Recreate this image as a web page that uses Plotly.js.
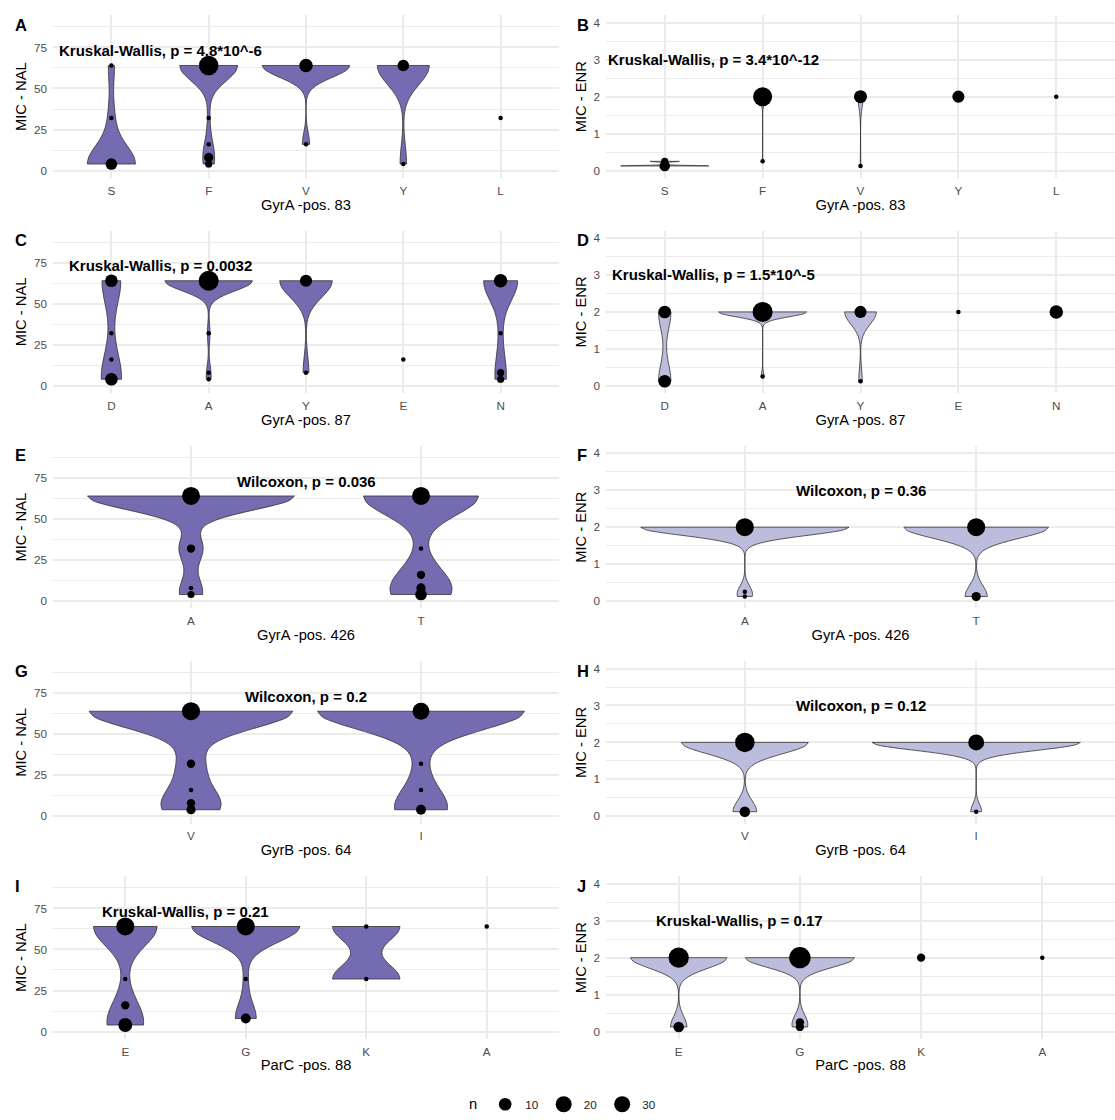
<!DOCTYPE html>
<html><head><meta charset="utf-8">
<script src="https://cdn.plot.ly/plotly-3.0.1.min.js"></script>
<style>html,body{margin:0;padding:0;background:#fff}#chart{width:1115px;height:1120px}</style>
</head><body><div id="chart"></div>
<script>
// ---------- data (MIC value, group, number of isolates) ----------
const A_cats = ['S','F','V','Y','L'];
const A_grp = ['S','S','S','F','F','F','F','F','V','V','Y','Y','L'];
const A_mic = [64,32,4, 64,32,16,8,4, 64,16, 64,4, 32];
const A_n   = [1,1,8, 32,1,1,4,2, 12,1, 8,1, 1];

const B_cats = ['S','F','V','Y','L'];
const B_grp = ['S','S','F','F','V','V','Y','L'];
const B_mic = [0.125,0.25, 2,0.25, 2,0.125, 2, 2];
const B_n   = [6,2, 30,1, 11,1, 9, 1];

const C_cats = ['D','A','Y','E','N'];
const C_grp = ['D','D','D','D','A','A','A','A','Y','Y','E','N','N','N','N'];
const C_mic = [64,32,16,4, 64,32,8,4, 64,8, 16, 64,32,8,4];
const C_n   = [10,1,1,10, 34,1,1,1, 9,1, 1, 12,1,2,2];

const D_cats = ['D','A','Y','E','N'];
const D_grp = ['D','D','A','A','Y','Y','E','N'];
const D_mic = [2,0.125, 2,0.25, 2,0.125, 2, 2];
const D_n   = [10,10, 34,1, 9,1, 1, 12];

const E_cats = ['A','T'];
const E_grp = ['A','A','A','A','T','T','T','T','T'];
const E_mic = [64,32,8,4, 64,32,16,8,4];
const E_n   = [26,3,1,2, 26,1,3,4,8];

const F_cats = ['A','T'];
const F_grp = ['A','A','A','T','T'];
const F_mic = [2,0.25,0.125, 2,0.125];
const F_n   = [26,1,1, 26,4];

const G_cats = ['V','I'];
const G_grp = ['V','V','V','V','V','I','I','I','I'];
const G_mic = [64,32,16,8,4, 64,32,16,4];
const G_n   = [26,3,1,3,4, 22,1,1,5];

const H_cats = ['V','I'];
const H_grp = ['V','V','I','I'];
const H_mic = [2,0.125, 2,0.125];
const H_n   = [32,6, 19,1];

const I_cats = ['E','G','K','A'];
const I_grp = ['E','E','E','E','G','G','G','K','K','A'];
const I_mic = [64,32,16,4, 64,32,8, 64,32, 64];
const I_n   = [26,1,3,13, 26,1,5, 1,1, 1];

const J_cats = ['E','G','K','A'];
const J_grp = ['E','E','G','G','G','K','A'];
const J_mic = [2,0.125, 2,0.25,0.125, 2, 2];
const J_n   = [35,6, 40,3,3, 3, 1];

const panelIds = ['A','B','C','D','E','F','G','H','I','J'];
const xTitles = ['GyrA -pos. 83','GyrA -pos. 83','GyrA -pos. 87','GyrA -pos. 87','GyrA -pos. 426',
                 'GyrA -pos. 426','GyrB -pos. 64','GyrB -pos. 64','ParC -pos. 88','ParC -pos. 88'];
const yTitles = ['MIC - NAL','MIC - ENR'];
const statLabels = ['Kruskal-Wallis, p = 4.8*10^-6','Kruskal-Wallis, p = 3.4*10^-12',
  'Kruskal-Wallis, p = 0.0032','Kruskal-Wallis, p = 1.5*10^-5','Wilcoxon, p = 0.036',
  'Wilcoxon, p = 0.36','Wilcoxon, p = 0.2','Wilcoxon, p = 0.12',
  'Kruskal-Wallis, p = 0.21','Kruskal-Wallis, p = 0.17'];
const statLabelY = [73, 3];
const legendN = [10, 20, 30];

const panelData = {
  A:[A_cats,A_grp,A_mic,A_n], B:[B_cats,B_grp,B_mic,B_n], C:[C_cats,C_grp,C_mic,C_n],
  D:[D_cats,D_grp,D_mic,D_n], E:[E_cats,E_grp,E_mic,E_n], F:[F_cats,F_grp,F_mic,F_n],
  G:[G_cats,G_grp,G_mic,G_n], H:[H_cats,H_grp,H_mic,H_n], I:[I_cats,I_grp,I_mic,I_n],
  J:[J_cats,J_grp,J_mic,J_n]
};

// ---------- helpers ----------
const FONT = 'Liberation Sans, Arial, Helvetica, sans-serif';
const W = 1115, H = 1120;
const GRID = '#EBEBEB';
function sizeOf(n){ return 4.5 + 2.7*Math.sqrt(n-1); }
function q7(s,p){ const h=(s.length-1)*p, lo=Math.floor(h), hi=Math.ceil(h); return s[lo]+(h-lo)*(s[hi]-s[lo]); }
function nrd0(x){
  const n=x.length, s=[...x].sort((a,b)=>a-b);
  const m=x.reduce((a,b)=>a+b,0)/n;
  const sd=Math.sqrt(x.reduce((a,b)=>a+(b-m)*(b-m),0)/(n-1));
  let lo=Math.min(sd,(q7(s,.75)-q7(s,.25))/1.34);
  if(!lo) lo = sd || Math.abs(s[0]) || 1;
  return 0.9*lo*Math.pow(n,-0.2);
}

const traces = [], annotations = [];
const layout = {
  width: W, height: H, margin:{l:0,r:0,t:0,b:0},
  paper_bgcolor:'#fff', plot_bgcolor:'#fff',
  font:{family:FONT, color:'#000'},
  violinmode:'overlay', violingap:0.1, violingroupgap:0,
  showlegend:true,
  legend:{orientation:'h', x:564/W, xanchor:'center', y:(H-1111.7)/H, yanchor:'middle',
          title:{text:'n', side:'left', font:{size:14.7, color:'#000'}},
          font:{size:11.7, color:'#1a1a1a'}, bgcolor:'rgba(0,0,0,0)', itemsizing:'trace',
          tracegroupgap:0, itemclick:false, itemdoubleclick:false}
};

panelIds.forEach((pid,k)=>{
  const [cats,grp,mic,n] = panelData[pid];
  const col = k%2, row = Math.floor(k/2);
  const isNAL = col===0;
  const ax = k===0 ? '' : String(k+1);
  const xref = 'x'+ax, yref = 'y'+ax;
  const fill = isNAL ? '#756BB1' : '#BCBDDC';

  // violins: one per group (needs at least two distinct values)
  cats.forEach(c=>{
    const vals=[];
    grp.forEach((g,i)=>{ if(g===c){ for(let j=0;j<n[i];j++) vals.push(mic[i]); } });
    if(new Set(vals).size<2) return;
    traces.push({type:'violin', x:vals.map(()=>c), y:vals, xaxis:xref, yaxis:yref,
      bandwidth:nrd0(vals), spanmode:'hard', scalemode:'width', scalegroup:pid,
      points:false, box:{visible:false}, meanline:{visible:false},
      fillcolor:fill, opacity:1, line:{color:'#333333', width:0.8},
      hoverinfo:'skip', showlegend:false});
  });
  // points sized by n
  traces.push({type:'scatter', mode:'markers', x:grp, y:mic, xaxis:xref, yaxis:yref,
    marker:{color:'#000', opacity:1, size:n.map(sizeOf), line:{width:0}},
    hoverinfo:'skip', showlegend:false});

  const x0 = col===0 ? 53 : 606, x1 = col===0 ? 559 : 1115;
  const top = 15.5 + 216.6*row, bot = 179.1 + 216.6*row;
  layout['xaxis'+ax] = {domain:[x0/W, x1/W], anchor:yref, type:'category',
    categoryorder:'array', categoryarray:cats, range:[-0.6, cats.length-1+0.6],
    showgrid:true, gridcolor:GRID, gridwidth:2, zeroline:false, showline:false,
    ticks:'', ticklabelstandoff:4, tickfont:{size:11.7, color:'#4D4D4D', family:FONT},
    title:{text:xTitles[k], font:{size:14.7, color:'#000', family:FONT}, standoff:3},
    fixedrange:true};
  layout['yaxis'+ax] = {domain:[1-bot/H, 1-top/H], anchor:xref,
    range: isNAL ? [-4.5, 94.5] : [-0.2, 4.2],
    tickmode:'array', tickvals: isNAL ? [0,25,50,75] : [0,1,2,3,4],
    minor:{tickmode:'array', tickvals: isNAL ? [12.5,37.5,62.5,87.5] : [0.5,1.5,2.5,3.5],
           showgrid:true, gridcolor:GRID, gridwidth:1, ticks:''},
    showgrid:true, gridcolor:GRID, gridwidth:2, zeroline:false, showline:false,
    ticks:'', ticklabelstandoff:5, tickfont:{size:11.7, color:'#4D4D4D', family:FONT},
    title:{text:yTitles[col], font:{size:14.7, color:'#000', family:FONT}, standoff:3},
    fixedrange:true};

  annotations.push({xref:xref, yref:yref, x:0.5, y:statLabelY[col], text:statLabels[k],
    showarrow:false, xanchor:'center', yanchor:'middle',
    font:{size:15, color:'#000', family:FONT, weight:'bold'}});
  annotations.push({xref:'paper', yref:'paper', x:(col===0?13:575)/W, y:1-(14+216.6*row)/H,
    text:pid, showarrow:false, xanchor:'left', yanchor:'top',
    font:{size:16.5, color:'#000', family:FONT, weight:'bold'}});
});

// size legend
legendN.forEach(v=>{
  traces.push({type:'scatter', mode:'markers', x:[null], y:[null], name:String(v),
    marker:{color:'#000', opacity:1, size:sizeOf(v), line:{width:0}}, showlegend:true, hoverinfo:'skip'});
});
layout.annotations = annotations;

Plotly.newPlot('chart', traces, layout, {staticPlot:true, displayModeBar:false});
</script></body></html>
